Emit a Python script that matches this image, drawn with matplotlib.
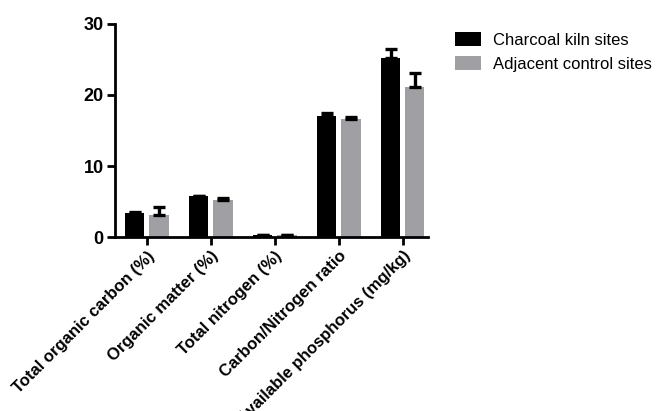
import matplotlib
matplotlib.use("Agg")
import matplotlib.pyplot as plt
import numpy as np

categories = ["Total organic carbon (%)", "Organic matter (%)", "Total nitrogen (%)",
              "Carbon/Nitrogen ratio", "Available phosphorus (mg/kg)"]
kiln = [3.45, 5.75, 0.3, 17.1, 25.15]
kiln_err = [0.08, 0.1, 0.03, 0.4, 1.35]
control = [3.05, 5.27, 0.28, 16.55, 21.05]
control_err = [1.15, 0.3, 0.05, 0.3, 2.0]
series_names = ["Charcoal kiln sites", "Adjacent control sites"]
yticks = [0, 10, 20, 30]

plt.rcParams['font.family'] = ['Liberation Sans', 'DejaVu Sans']

fig = plt.figure(figsize=(6.6, 4.11), dpi=100)
ax = fig.add_axes([0.174, 0.423, 0.474, 0.519])

x = np.arange(len(categories))
w = 0.3
off = 0.19
ax.bar(x - off, kiln, w, color="black", label=series_names[0],
       yerr=[np.zeros(len(kiln)), kiln_err], error_kw=dict(ecolor="black", elinewidth=2.4, capsize=4, capthick=2.4))
ax.bar(x + off, control, w, color="#A0A0A4", label=series_names[1],
       yerr=[np.zeros(len(control)), control_err], error_kw=dict(ecolor="black", elinewidth=2.4, capsize=4, capthick=2.4))

ax.set_xlim(-0.5, len(categories) - 0.61)
ax.set_ylim(0, 30)
ax.set_yticks(yticks)
ax.set_yticklabels([str(t) for t in yticks], fontsize=13, fontweight="bold")
ax.set_xticks(x)
ax.set_xticklabels(categories, rotation=45, ha="right", rotation_mode="anchor",
                   fontsize=12, fontweight="bold")
for s in ["top", "right"]:
    ax.spines[s].set_visible(False)
for s in ["left", "bottom"]:
    ax.spines[s].set_linewidth(2)
ax.tick_params(axis="both", direction="out", length=6, width=2, pad=2)

ax.legend(loc="upper left", bbox_to_anchor=(0.666, 0.958), bbox_transform=fig.transFigure,
          frameon=False, fontsize=12, handlelength=1.6, handleheight=0.9, handletextpad=0.7,
          labelspacing=0.5)

fig.savefig("out.png", dpi=100)
